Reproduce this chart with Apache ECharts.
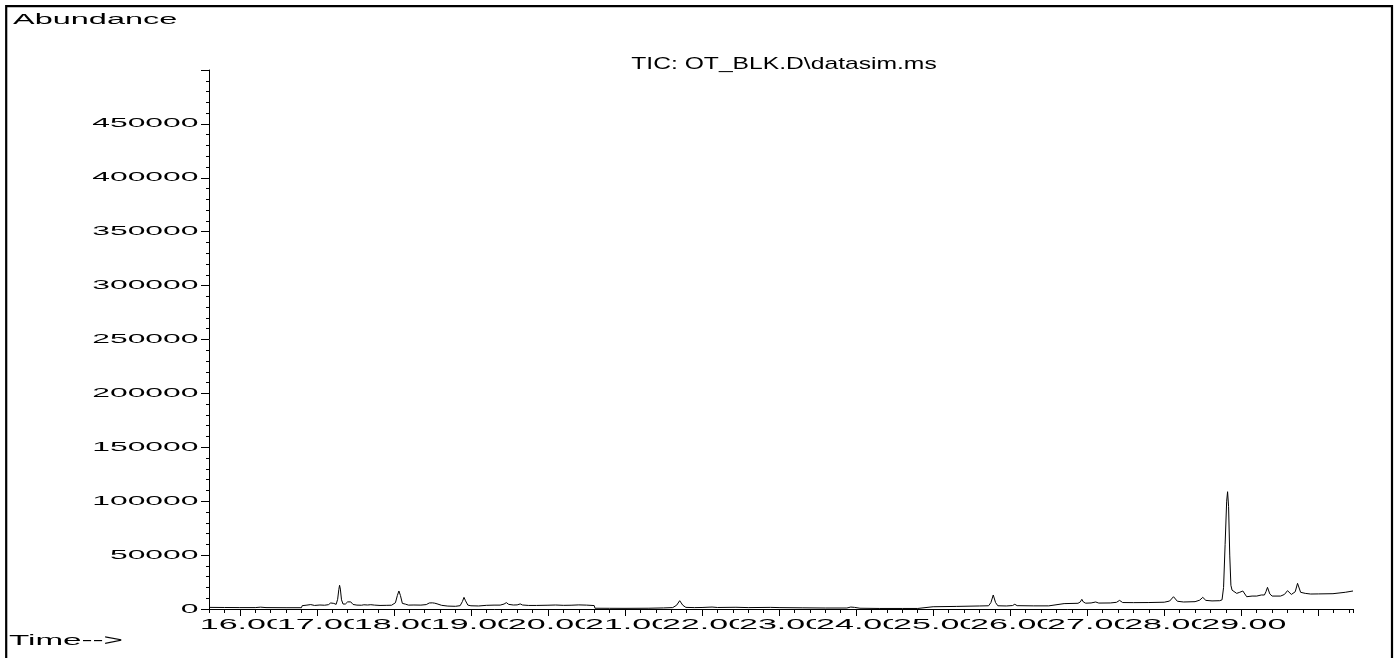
<!DOCTYPE html>
<html>
<head>
<meta charset="utf-8">
<script src="https://cdn.jsdelivr.net/npm/echarts@6/dist/echarts.min.js"></script>
<style>
  html, body { margin: 0; padding: 0; background: #fff; }
  #chart { width: 1398px; height: 658px; }
</style>
</head>
<body>
<div id="chart"></div>
<script>
// Total ion chromatogram: retention time (min) and abundance (counts)
const retentionTime = [
  15.60, 15.80, 16.00, 16.20, 16.27, 16.34, 16.60, 16.80,
  16.81, 16.86, 16.92, 16.97, 17.04, 17.10, 17.15, 17.18, 17.20, 17.22, 17.25,
  17.27, 17.285, 17.295, 17.305, 17.32, 17.34, 17.37, 17.40, 17.42, 17.44, 17.47,
  17.52, 17.58, 17.61, 17.63, 17.66, 17.70, 17.75, 17.82, 17.90, 17.97,
  18.02, 18.045, 18.065, 18.085, 18.11, 18.15, 18.19, 18.26, 18.35, 18.42,
  18.46, 18.48, 18.50, 18.53, 18.56, 18.62, 18.70, 18.80, 18.86, 18.89,
  18.91, 18.93, 18.96, 19.00, 19.10, 19.20, 19.30, 19.38, 19.43, 19.46,
  19.49, 19.55, 19.60, 19.64, 19.67, 19.75, 19.85, 20.00, 20.10, 20.20,
  20.30, 20.40, 20.50, 20.60,
  20.61, 20.80, 21.00, 21.30, 21.50, 21.62, 21.67, 21.71, 21.75, 21.79,
  21.90, 22.00, 22.13, 22.20, 22.44, 22.60, 22.89, 23.00, 23.30, 23.60,
  23.88, 23.93, 23.95, 23.98, 24.05, 24.30, 24.60, 24.80,
  24.81, 25.00, 25.30, 25.60, 25.72, 25.75, 25.78, 25.81, 25.84, 25.95,
  26.03, 26.06, 26.09, 26.30, 26.50,
  26.51, 26.70, 26.88, 26.91, 26.93, 26.95, 26.98, 27.05, 27.11, 27.15,
  27.30, 27.38, 27.42, 27.46, 27.60, 27.80, 28.00, 28.07, 28.12, 28.17,
  28.25, 28.40, 28.46, 28.50, 28.54, 28.62, 28.72, 28.75, 28.77, 28.79,
  28.81, 28.822, 28.835, 28.85, 28.865, 28.88, 28.90, 28.94, 28.98, 29.02,
  29.07, 29.14, 29.20, 29.26, 29.30, 29.32, 29.34, 29.37, 29.40, 29.51,
  29.56, 29.60, 29.65, 29.70, 29.73, 29.77, 29.83, 29.90, 30.00, 30.19,
  30.35, 30.45
];
const abundance = [
  1500, 1400, 1300, 1300, 1700, 1300, 1200, 1200,
  3100, 3500, 4100, 3300, 3700, 3500, 4000, 5600, 6800, 5200, 4300,
  9000, 18000, 22000, 18500, 8500, 4600, 4600, 6600, 8300, 6600, 4200,
  3600, 3500, 3900, 4400, 3700, 4000, 3600, 3300, 3400, 3500,
  5800, 12500, 16700, 12500, 5200, 4500, 3600, 3700, 3600, 4100,
  5600, 6800, 5700, 5400, 4800, 3400, 2700, 2500, 3100, 7000,
  10800, 7600, 3600, 3000, 2800, 3400, 3600, 3600, 4600, 5900,
  4300, 3700, 3800, 4700, 3700, 3300, 3300, 3500, 3700, 3400,
  3500, 3800, 3600, 3200,
  700, 650, 600, 700, 1000, 1300, 3500, 7700, 3500, 1500,
  1300, 1400, 1800, 1400, 1600, 1300, 1500, 1300, 1100, 900,
  900, 1800, 2400, 1500, 700, 500, 500, 500,
  1900, 2100, 2400, 2800, 3000, 6000, 13000, 6000, 3000, 2800,
  3200, 4400, 3100, 2900, 2900,
  4600, 5000, 5300, 6500, 9000, 6500, 5400, 5600, 6500, 5500,
  5600, 6200, 8000, 6000, 5900, 6000, 6300, 7400, 11400, 7200,
  6500, 6800, 8200, 10800, 8000, 7500, 7700, 8500, 20000, 60000,
  100000, 108800, 95000, 50000, 22000, 17500, 17000, 14500, 15500, 16700,
  11400, 12000, 12000, 13000, 13000, 16000, 20100, 14000, 12000, 12000,
  13500, 17000, 13500, 16000, 23800, 15500, 14500, 13900, 14000, 14200,
  15500, 16700
];

// Axis ticks and their printed labels
const timeTickValues = [16, 17, 18, 19, 20, 21, 22, 23, 24, 25, 26, 27, 28, 29, 30];
const timeLabelValues = [16, 17, 18, 19, 20, 21, 22, 23, 24, 25, 26, 27, 28, 29];
const timeLabels = ['16.00', '17.00', '18.00', '19.00', '20.00', '21.00', '22.00',
  '23.00', '24.00', '25.00', '26.00', '27.00', '28.00', '29.00'];
const abundanceLabelValues = [0, 50000, 100000, 150000, 200000, 250000, 300000, 350000, 400000, 450000];
const abundanceLabels = ['0', '50000', '100000', '150000', '200000', '250000', '300000', '350000', '400000', '450000'];

const titleText = 'TIC: OT_BLK.D\\datasim.ms';
const yAxisTitle = 'Abundance';
const xAxisTitle = 'Time-->';

const FONT = '"Liberation Sans", Arial, sans-serif';

const chart = echarts.init(document.getElementById('chart'), null, { renderer: 'canvas' });

const series = retentionTime.map((t, i) => [t, abundance[i]]);

const option = {
  animation: false,
  backgroundColor: '#fff',
  grid: { left: 209, right: 45, top: 70, bottom: 49 },
  xAxis: [
    {
      type: 'value',
      min: 15.6, max: 30.45, interval: 0.2,
      axisLine: { show: true, onZero: false, lineStyle: { color: '#000', width: 1 } },
      axisTick: { show: true, length: 4, lineStyle: { color: '#000' } },
      axisLabel: { show: false },
      splitLine: { show: false }
    },
    {
      type: 'value',
      position: 'bottom',
      min: 15.6, max: 30.45,
      axisLine: { show: false, onZero: false },
      axisTick: { show: true, length: 7, customValues: timeTickValues, lineStyle: { color: '#000' } },
      axisLabel: { show: false },
      splitLine: { show: false }
    }
  ],
  yAxis: {
    type: 'value',
    min: 0, max: 500000, interval: 50000,
    axisLine: { show: true, lineStyle: { color: '#000', width: 1 } },
    axisTick: { show: true, length: 8, lineStyle: { color: '#000' } },
    minorTick: { show: true, splitNumber: 5, length: 3, lineStyle: { color: '#000' } },
    axisLabel: { show: false },
    splitLine: { show: false }
  },
  series: [{
    type: 'line',
    data: series,
    showSymbol: false,
    symbol: 'none',
    lineStyle: { color: '#000', width: 1 },
    silent: true
  }]
};

chart.setOption(option);

// Wide, stretched lettering of the instrument printout
function stretchedText(text, x, y, size, sx, align, vAlign, bg) {
  const style = {
    text: text, x: 0, y: 0,
    font: size + 'px ' + FONT,
    fill: '#000',
    textAlign: align, align: align,
    textVerticalAlign: vAlign, verticalAlign: vAlign
  };
  if (bg) style.backgroundColor = bg;
  return { type: 'text', x: x, y: y, scaleX: sx, silent: true, z: 100, style: style };
}

const px = v => chart.convertToPixel({ xAxisIndex: 0 }, v);
const py = v => chart.convertToPixel({ yAxisIndex: 0 }, v);
const axisX = px(15.6);
const axisY = py(0);

const texts = [];
abundanceLabelValues.forEach((v, i) => {
  texts.push(stretchedText(abundanceLabels[i], axisX - 10.5, py(v), 13, 2.45, 'right', 'middle'));
});
timeLabelValues.forEach((v, i) => {
  texts.push(stretchedText(timeLabels[i], px(v) + 2.5, axisY + 16, 15, 2.27, 'center', 'middle', '#fff'));
});
texts.push(stretchedText(yAxisTitle, 13, 20, 14, 2.32, 'left', 'middle'));
texts.push(stretchedText(xAxisTitle, 9, 641, 14, 2.37, 'left', 'middle'));
texts.push(stretchedText(titleText, (px(15.6) + px(30.45)) / 2 + 3, 64, 17, 1.45, 'center', 'middle'));

chart.setOption({
  graphic: [
    {
      type: 'rect', silent: true, z: 50,
      shape: { x: 6.2, y: 6.2, width: 1385.8, height: 720 },
      style: { fill: 'none', stroke: '#000', lineWidth: 2.2 }
    }
  ].concat(texts)
});
</script>
</body>
</html>
